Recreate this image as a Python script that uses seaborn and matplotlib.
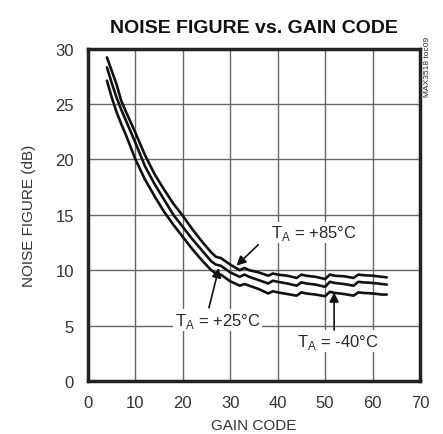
import pandas as pd
import seaborn as sns
import matplotlib.pyplot as plt

# Dados (código de ganho x figura de ruído em dB)
codigos = [4, 5, 6, 7, 8, 10, 12, 14, 16, 18, 20, 22, 24, 26, 27, 28, 30, 32, 33, 34,
           36, 38, 39, 40, 42, 44, 45, 46, 48, 50, 51, 52, 54, 56, 57, 58, 60, 62, 63]
nf_85 = [29.2, 28.0, 26.8, 25.3, 24.3, 22.4, 20.4, 18.7, 17.3, 16.0, 14.9, 13.7, 12.6,
         11.6, 11.2, 11.1, 10.5, 10.0, 10.2, 10.0, 9.8, 9.5, 9.7, 9.6, 9.5, 9.3, 9.6,
         9.5, 9.4, 9.2, 9.6, 9.5, 9.45, 9.3, 9.6, 9.55, 9.5, 9.4, 9.35]
nf_25 = [28.3, 26.9, 25.6, 24.5, 23.5, 21.5, 19.4, 17.8, 16.4, 15.0, 13.9, 12.8, 11.8,
         10.8, 10.5, 10.4, 9.8, 9.4, 9.6, 9.4, 9.1, 8.8, 9.05, 8.95, 8.8, 8.6, 8.9,
         8.8, 8.7, 8.5, 8.95, 8.85, 8.75, 8.6, 8.95, 8.9, 8.85, 8.75, 8.7]
nf_m40 = [27.1, 25.6, 24.3, 23.2, 22.2, 20.0, 18.2, 16.7, 15.3, 14.1, 13.0, 11.9, 10.9,
          10.0, 9.7, 9.6, 9.0, 8.6, 8.75, 8.6, 8.3, 7.9, 8.1, 8.0, 7.85, 7.7, 8.0,
          7.9, 7.8, 7.65, 8.05, 7.95, 7.85, 7.7, 8.0, 7.95, 7.9, 7.8, 7.8]
temperaturas = ["+85", "+25", "-40"]

df = pd.concat([
    pd.DataFrame({"codigo": codigos, "nf": v, "temp": t})
    for t, v in zip(temperaturas, [nf_85, nf_25, nf_m40])
])

sns.set_style("white")
plt.rcParams["font.family"] = ["Liberation Sans", "DejaVu Sans"]
plt.rcParams["mathtext.fontset"] = "custom"
plt.rcParams["mathtext.rm"] = "Liberation Sans"

fig = plt.figure(figsize=(4.43, 4.35), dpi=100)
ax = fig.add_axes([0.1986, 0.1218, 0.7494, 0.7644])

sns.lineplot(data=df, x="codigo", y="nf", hue="temp", palette=["#111111"] * 3,
             linewidth=1.9, legend=False, ax=ax, zorder=3)

ax.set_xlim(0, 70)
ax.set_ylim(0, 30)
ax.set_xticks(range(0, 71, 10))
ax.set_yticks(range(0, 31, 5))
ax.grid(True, color="#666666", linewidth=1.0)
ax.tick_params(axis="both", length=0, labelsize=12, colors="#333333", pad=10)
for s in ax.spines.values():
    s.set_visible(True)
    s.set_color("#222222")
    s.set_linewidth(2.5)

ax.set_xlabel("GAIN CODE", fontsize=11, color="#333333", labelpad=6)
ax.set_ylabel("NOISE FIGURE (dB)", fontsize=11, color="#333333", labelpad=14)
ax.set_title("NOISE FIGURE vs. GAIN CODE", fontsize=14, fontweight="bold",
             color="#111111", pad=12)

caixa = dict(facecolor="white", edgecolor="none", pad=1)
seta = dict(arrowstyle="-|>", color="#111111", lw=1.2, mutation_scale=14,
            shrinkA=0, shrinkB=0)

# rótulos
ax.text(38.5, 13.4, r"T$_\mathregular{A}$ = +85°C", fontsize=12, va="center",
        ha="left", bbox=caixa, zorder=4)
ax.text(27.3, 5.5, r"T$_\mathregular{A}$ = +25°C", fontsize=12, va="center",
        ha="center", bbox=caixa, zorder=4)
ax.text(52.7, 3.6, r"T$_\mathregular{A}$ = -40°C", fontsize=12, va="center",
        ha="center", bbox=caixa, zorder=4)

# setas
ax.annotate("", xy=(31.3, 10.4), xytext=(35.9, 12.3), arrowprops=seta, zorder=4)
ax.annotate("", xy=(27.6, 10.2), xytext=(25.5, 6.6), arrowprops=seta, zorder=4)
ax.annotate("", xy=(51.9, 8.0), xytext=(51.9, 4.6), arrowprops=seta, zorder=4)

fig.text(0.966, 0.845, "MAX3518 toc09", rotation=90, fontsize=6, ha="center", va="center")

plt.savefig("out.png", dpi=100)
plt.close()
